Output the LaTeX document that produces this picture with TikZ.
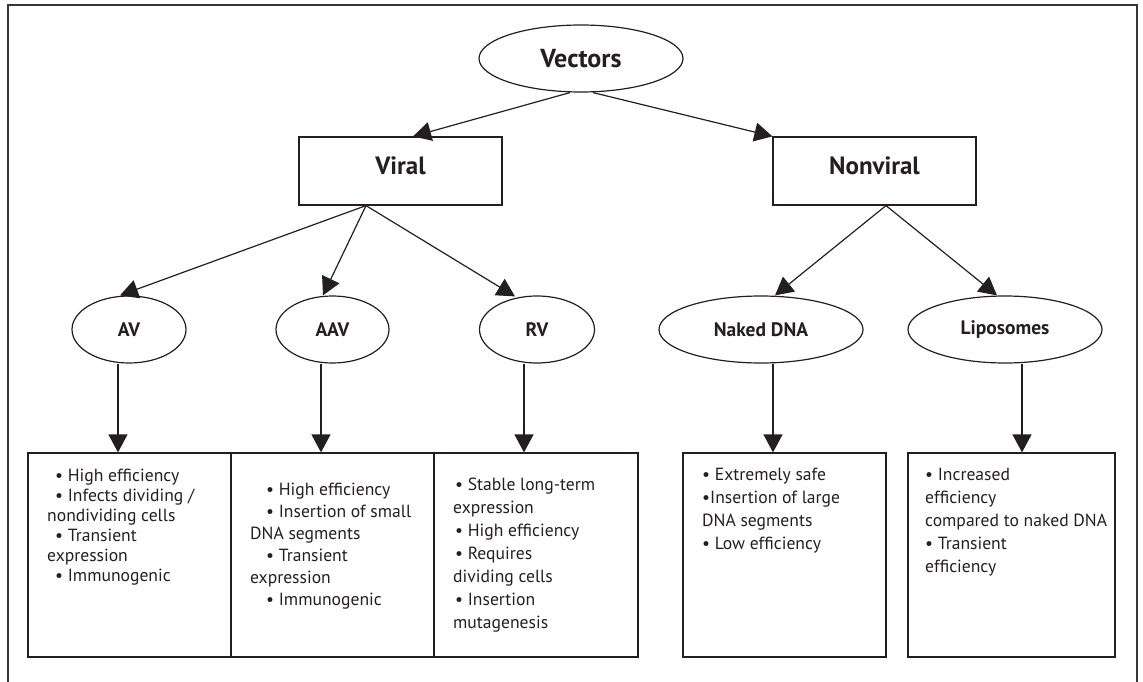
\documentclass[tikz,border=0pt]{standalone}
\usepackage{fontspec}
\setmainfont{PT Sans}
\usetikzlibrary{shapes.geometric,arrows.meta}
\definecolor{ink}{HTML}{231F20}
\begin{document}
\begin{tikzpicture}[x=1pt,y=-1pt,
  line/.style={draw=ink,line width=1.2pt},
  arr/.style={line,-{Triangle[length=18pt,width=19pt]}},
  oval/.style={ellipse,draw=ink,line width=1.2pt,inner sep=0pt,minimum height=67pt,
    font=\bfseries\fontsize{19.5}{22}\selectfont,text=ink},
  headbox/.style={rectangle,draw=ink,line width=1.2pt,minimum width=203pt,minimum height=68pt,
    inner sep=0pt,font=\bfseries\fontsize{25}{30}\selectfont,text=ink,text height=18pt,text depth=10pt},
  infobox/.style={rectangle,draw=ink,line width=1.2pt,minimum height=204pt,inner sep=0pt},
  body/.style={anchor=north west,inner sep=0pt,align=left,text=ink,font=\fontsize{17.6}{#1}\selectfont},
]
\useasboundingbox (0,0) rectangle (1143,682);
% outer frame (open at the bottom)
\draw[draw=ink!90,line width=1.6pt] (8,682) -- (8,5) -- (1137,5) -- (1137,682);

% top level
\node[oval,minimum width=204pt,font=\bfseries\fontsize{26}{30}\selectfont] (vec) at (581,58.5) {Vectors};
\node[headbox] (viral) at (400.5,171) {Viral};
\node[headbox] (nonviral) at (874.5,171) {Nonviral};

% second level
\node[oval,minimum width=114pt] (av) at (129,329.5) {AV};
\node[oval,minimum width=113pt] (aav) at (332.5,329.5) {AAV};
\node[oval,minimum width=115pt] (rv) at (537,329.5) {RV};
\node[oval,minimum width=204pt] (naked) at (761,329.5) {Naked DNA};
\node[oval,minimum width=194pt] (lipo) at (1005,329.5) {Liposomes};

% bottom boxes
\node[infobox,minimum width=203pt] (b1) at (129.5,555) {};
\node[infobox,minimum width=203pt] (b2) at (332.5,555) {};
\node[infobox,minimum width=204pt] (b3) at (536,555) {};
\node[infobox,minimum width=203pt] (b4) at (784.5,555) {};
\node[infobox,minimum width=207pt] (b5) at (1011.5,555) {};

% texts
\node[body=20pt] (t1) at (47,469) {%
\hspace*{8pt}• High efficiency\\
\hspace*{8pt}• Infects dividing /\\
nondividing cells\\
\hspace*{8pt}• Transient\\
expression\\
\hspace*{8pt}• Immunogenic};
\node[body=22pt] (t2) at (250,483) {%
\hspace*{16pt}• High efficiency\\
\hspace*{16pt}• Insertion of small\\
DNA segments\\
\hspace*{16pt}• Transient\\
expression\\
\hspace*{16pt}• Immunogenic};
\node[body=23pt] (t3) at (453,478) {%
\hspace*{2pt}• Stable long-term\\
expression\\
\hspace*{2pt}• High efficiency\\
\hspace*{2pt}• Requires\\
dividing cells\\
\hspace*{2pt}• Insertion\\
mutagenesis};
\node[body=23pt] (t4) at (702,468) {%
• Extremely safe\\
•Insertion of large\\
DNA segments\\
• Low efficiency};
\node[body=23pt] (t5) at (925,468) {%
• Increased\\
efficiency\\
compared to naked DNA\\
• Transient\\
efficiency};

% connectors
\draw[arr] ([xshift=-11pt]vec.south) -- ([xshift=12.5pt]viral.north);
\draw[arr] ([xshift=12pt]vec.south) -- (nonviral.north west);
\draw[arr] ([xshift=-34.5pt]viral.south) -- ([xshift=-9pt]av.north);
\draw[arr] ([xshift=-34.5pt]viral.south) -- ([xshift=-9.5pt]aav.north);
\draw[arr] ([xshift=-34.5pt]viral.south) -- ([xshift=-22pt,yshift=-1pt]rv.north);
\draw[arr] ([xshift=11.5pt]nonviral.south) -- ([xshift=14pt]naked.north);
\draw[arr] ([xshift=11.5pt]nonviral.south) -- ([xshift=-8pt]lipo.north);
\draw[arr] ([xshift=-11pt]av.south) -- ([xshift=-11pt]av.south |- b1.north);
\draw[arr] ([xshift=-11.5pt]aav.south) -- ([xshift=-11.5pt]aav.south |- b2.north);
\draw[arr] ([xshift=-13pt]rv.south) -- ([xshift=-13pt]rv.south |- b3.north);
\draw[arr] ([xshift=12pt]naked.south) -- ([xshift=12pt]naked.south |- b4.north);
\draw[arr] ([xshift=17pt]lipo.south) -- ([xshift=17pt]lipo.south |- b5.north);
\end{tikzpicture}
\end{document}
